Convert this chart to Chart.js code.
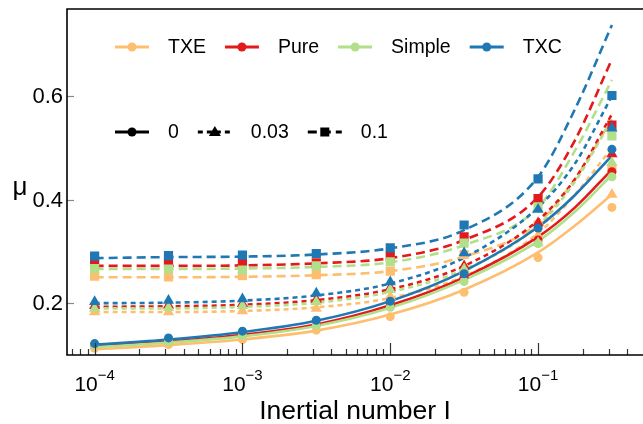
<!DOCTYPE html>
<html>
<head>
<meta charset="utf-8">
<script src="https://cdn.jsdelivr.net/npm/chart.js@4.4.0/dist/chart.umd.min.js"></script>
<style>
  html, body { margin: 0; padding: 0; background: #fff; }
</style>
</head>
<body>
<canvas id="chart-mu" width="643" height="424"></canvas>
<script>
const pointI = [1e-4, 3.16e-4, 1e-3, 3.16e-3, 1e-2, 3.16e-2, 1e-1, 3.16e-1];
const fitI = [1e-4, 3.16e-4, 1e-3, 3.16e-3, 1e-2, 3.16e-2, 1e-1, 1.78e-1, 3.16e-1];

const models = [`TXE`, `Pure`, `Simple`, `TXC`];
const modelColors = [`#fdbf6f`, `#e31a1c`, `#b2df8a`, `#1f78b4`];
const frictions = [`0`, `0.03`, `0.1`];

const xTickExponents = [-4, -3, -2, -1];
const yTickValues = [0.2, 0.4, 0.6];

// measured mu (markers)
const txePts0 = [0.113, 0.120, 0.130, 0.148, 0.174, 0.221, 0.288, 0.385];
const txePts003 = [0.183, 0.183, 0.185, 0.190, 0.213, 0.262, 0.330, 0.410];
const txePts01 = [0.252, 0.251, 0.253, 0.255, 0.262, 0.294, 0.351, 0.460];
const purePts0 = [0.119, 0.128, 0.140, 0.160, 0.196, 0.250, 0.322, 0.454];
const purePts003 = [0.195, 0.196, 0.199, 0.207, 0.230, 0.272, 0.355, 0.488];
const purePts01 = [0.276, 0.278, 0.277, 0.278, 0.291, 0.328, 0.402, 0.544];
const simplePts0 = [0.118, 0.126, 0.138, 0.157, 0.192, 0.242, 0.315, 0.444];
const simplePts003 = [0.190, 0.191, 0.195, 0.203, 0.226, 0.266, 0.316, 0.471];
const simplePts01 = [0.267, 0.266, 0.264, 0.272, 0.280, 0.316, 0.386, 0.523];
const txcPts0 = [0.122, 0.133, 0.146, 0.167, 0.204, 0.257, 0.345, 0.497];
const txcPts003 = [0.203, 0.205, 0.208, 0.219, 0.241, 0.297, 0.381, 0.538];
const txcPts01 = [0.291, 0.292, 0.293, 0.296, 0.307, 0.351, 0.440, 0.601];

// fitted curves (lines), read at fitI
const txeFit0 = [0.111, 0.119, 0.130, 0.147, 0.178, 0.226, 0.298, 0.350, 0.410];
const txeFit003 = [0.183, 0.183, 0.185, 0.192, 0.210, 0.252, 0.335, 0.410, 0.500];
const txeFit01 = [0.250, 0.250, 0.251, 0.254, 0.262, 0.290, 0.354, 0.440, 0.555];
const pureFit0 = [0.117, 0.126, 0.139, 0.159, 0.196, 0.250, 0.328, 0.385, 0.458];
const pureFit003 = [0.193, 0.194, 0.197, 0.206, 0.227, 0.272, 0.360, 0.440, 0.565];
const pureFit01 = [0.272, 0.272, 0.273, 0.277, 0.287, 0.322, 0.405, 0.515, 0.671];
const simpleFit0 = [0.115, 0.124, 0.136, 0.156, 0.191, 0.245, 0.320, 0.377, 0.448];
const simpleFit003 = [0.190, 0.190, 0.193, 0.201, 0.222, 0.265, 0.350, 0.435, 0.555];
const simpleFit01 = [0.266, 0.266, 0.267, 0.270, 0.279, 0.312, 0.385, 0.495, 0.631];
const txcFit0 = [0.120, 0.130, 0.144, 0.166, 0.204, 0.262, 0.347, 0.409, 0.485];
const txcFit003 = [0.200, 0.201, 0.205, 0.215, 0.238, 0.288, 0.385, 0.470, 0.600];
const txcFit01 = [0.287, 0.289, 0.290, 0.294, 0.306, 0.341, 0.444, 0.575, 0.737];

const pointSeries = [
  [txePts0, txePts003, txePts01],
  [purePts0, purePts003, purePts01],
  [simplePts0, simplePts003, simplePts01],
  [txcPts0, txcPts003, txcPts01],
];
const fitSeries = [
  [txeFit0, txeFit003, txeFit01],
  [pureFit0, pureFit003, pureFit01],
  [simpleFit0, simpleFit003, simpleFit01],
  [txcFit0, txcFit003, txcFit01],
];

const markerStyles = [`circle`, `triangle`, `rect`];
const markerRadius = [4.5, 6.5, 6.5];
const dashStyles = [[], [5, 4], [9, 5]];

const FONT = `"Liberation Sans", Arial, sans-serif`;

// drawn bottom to top, reversed below because chart.js puts index 0 on top
const bottomUp = [];
models.forEach((m, i) => {
  frictions.forEach((f, j) => {
    bottomUp.push({
      label: `${m} fit ${f}`,
      data: fitI.map((x, k) => ({x: x, y: fitSeries[i][j][k]})),
      showLine: true,
      borderColor: modelColors[i],
      borderWidth: 2.6,
      borderDash: dashStyles[j],
      cubicInterpolationMode: `monotone`,
      pointRadius: 0,
      fill: false,
    });
  });
});
models.forEach((m, i) => {
  frictions.forEach((f, j) => {
    bottomUp.push({
      label: `${m} ${f}`,
      data: pointI.map((x, k) => ({x: x, y: pointSeries[i][j][k]})),
      showLine: false,
      pointStyle: markerStyles[j],
      pointRadius: markerRadius[j],
      pointBorderWidth: 0,
      backgroundColor: modelColors[i],
      borderColor: modelColors[i],
    });
  });
});
const datasets = bottomUp.reverse();

// axes frame, inward ticks, tick labels, legend
const framePlugin = {
  id: `frame`,
  afterDraw(chart) {
    const ctx = chart.ctx;
    const area = chart.chartArea;
    const xs = chart.scales.x;
    const ys = chart.scales.y;
    ctx.save();

    // minor / major x ticks
    ctx.strokeStyle = `#333`;
    ctx.lineWidth = 1.2;
    for (let e = -5; e <= 0; e++) {
      for (let k = 1; k <= 9; k++) {
        const v = k * Math.pow(10, e);
        if (v < xs.min || v > xs.max) continue;
        const px = Math.round(xs.getPixelForValue(v)) + 0.5;
        const len = k === 1 ? 12 : 6;
        ctx.beginPath();
        ctx.moveTo(px, area.bottom);
        ctx.lineTo(px, area.bottom - len);
        ctx.stroke();
      }
    }
    // y ticks
    ctx.strokeStyle = `#888`;
    yTickValues.forEach(v => {
      const py = Math.round(ys.getPixelForValue(v)) + 0.5;
      ctx.beginPath();
      ctx.moveTo(area.left, py);
      ctx.lineTo(area.left + 7, py);
      ctx.stroke();
    });

    // frame: left, bottom, top
    ctx.strokeStyle = `#000`;
    ctx.lineWidth = 1.6;
    ctx.beginPath();
    ctx.moveTo(chart.width, area.top);
    ctx.lineTo(area.left, area.top);
    ctx.lineTo(area.left, area.bottom);
    ctx.lineTo(chart.width, area.bottom);
    ctx.stroke();

    // tick labels
    ctx.fillStyle = `#000`;
    ctx.textBaseline = `alphabetic`;
    xTickExponents.forEach(e => {
      const px = xs.getPixelForValue(Math.pow(10, e));
      ctx.font = `21px ${FONT}`;
      const wBase = ctx.measureText(`10`).width;
      ctx.font = `15px ${FONT}`;
      const sup = `\u2212${-e}`;
      const wSup = ctx.measureText(sup).width;
      const x0 = px - (wBase + wSup) / 2;
      ctx.font = `21px ${FONT}`;
      ctx.textAlign = `left`;
      ctx.fillText(`10`, x0, 391);
      ctx.font = `15px ${FONT}`;
      ctx.fillText(sup, x0 + wBase, 380);
    });
    ctx.font = `22px ${FONT}`;
    ctx.textAlign = `right`;
    ctx.textBaseline = `middle`;
    yTickValues.forEach(v => {
      ctx.fillText(v.toFixed(1), area.left - 4, ys.getPixelForValue(v) + 1);
    });

    // axis titles
    ctx.textAlign = `center`;
    ctx.textBaseline = `alphabetic`;
    ctx.font = `26.5px ${FONT}`;
    ctx.fillText(`Inertial number I`, 355, 419);
    ctx.font = `26px ${FONT}`;
    ctx.fillText(`\u03bc`, 20, 195);

    // legend row 1: models
    ctx.font = `19.5px ${FONT}`;
    ctx.textAlign = `left`;
    ctx.textBaseline = `middle`;
    let x = 115;
    const row1 = 47;
    models.forEach((m, i) => {
      ctx.strokeStyle = modelColors[i];
      ctx.fillStyle = modelColors[i];
      ctx.lineWidth = 3;
      ctx.setLineDash([]);
      ctx.beginPath();
      ctx.moveTo(x, row1);
      ctx.lineTo(x + 34, row1);
      ctx.stroke();
      ctx.beginPath();
      ctx.arc(x + 17, row1, 4.5, 0, Math.PI * 2);
      ctx.fill();
      ctx.fillStyle = `#000`;
      ctx.fillText(m, x + 53, row1 + 1);
      x += 53 + ctx.measureText(m).width + 19;
    });

    // legend row 2: friction
    x = 115;
    const row2 = 132;
    frictions.forEach((f, j) => {
      ctx.strokeStyle = `#000`;
      ctx.fillStyle = `#000`;
      ctx.lineWidth = 3;
      ctx.setLineDash(dashStyles[j]);
      ctx.beginPath();
      ctx.moveTo(x, row2);
      ctx.lineTo(x + 34, row2);
      ctx.stroke();
      ctx.setLineDash([]);
      const cx = x + 17;
      if (j === 0) {
        ctx.beginPath();
        ctx.arc(cx, row2, 4.5, 0, Math.PI * 2);
        ctx.fill();
      } else if (j === 1) {
        ctx.beginPath();
        ctx.moveTo(cx, row2 - 6);
        ctx.lineTo(cx + 6, row2 + 4);
        ctx.lineTo(cx - 6, row2 + 4);
        ctx.closePath();
        ctx.fill();
      } else {
        ctx.fillRect(cx - 4.5, row2 - 4.5, 9, 9);
      }
      ctx.fillText(f, x + 53, row2 + 1);
      x += 53 + ctx.measureText(f).width + 19;
    });

    ctx.restore();
  }
};

const ctxMu = document.getElementById(`chart-mu`);
const chartMu = new Chart(ctxMu, {
  type: `scatter`,
  data: {datasets: datasets},
  options: {
    responsive: false,
    animation: false,
    devicePixelRatio: 1,
    layout: {padding: {top: 9, right: 0, left: 0, bottom: 0}},
    plugins: {
      legend: {display: false},
      tooltip: {enabled: false},
    },
    scales: {
      x: {
        type: `logarithmic`,
        min: Math.pow(10, -4.187),
        max: Math.pow(10, -0.334),
        ticks: {display: false},
        grid: {display: false},
        border: {display: false},
        afterFit: s => { s.height = 69; },
      },
      y: {
        min: 0.1,
        max: 0.768,
        ticks: {display: false},
        grid: {display: false},
        border: {display: false},
        afterFit: s => { s.width = 67; },
      },
    },
  },
  plugins: [framePlugin],
});
</script>
</body>
</html>
